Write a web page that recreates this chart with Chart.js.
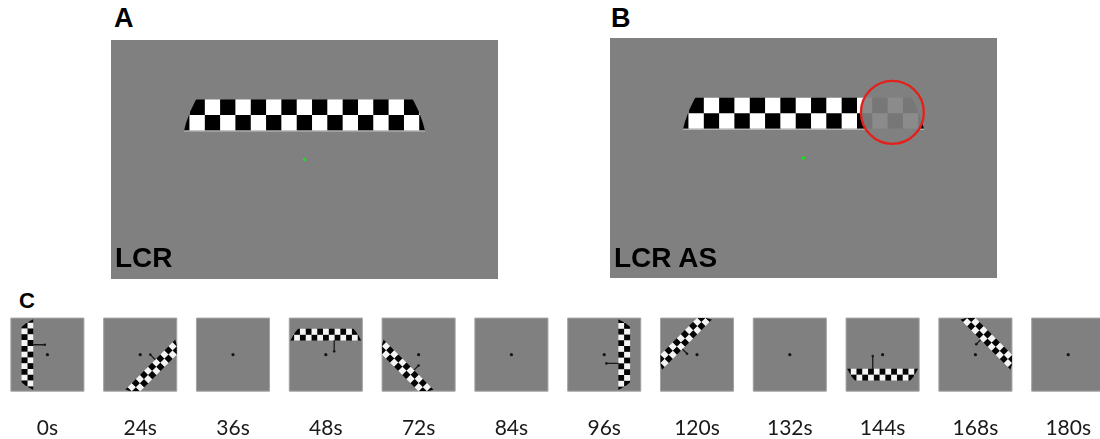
<!DOCTYPE html>
<html>
<head>
<meta charset="utf-8">
<script src="https://cdn.jsdelivr.net/npm/chart.js@4.4.1/dist/chart.umd.min.js"></script>
<style>
  html, body { margin: 0; padding: 0; background: #fff; overflow: hidden; }
  body { position: relative; width: 1100px; height: 439px; }
  .panel { position: absolute; }
  .tag { position: absolute; font-family: "Liberation Sans", Arial, sans-serif; font-weight: bold; color: #000; line-height: 1; white-space: nowrap; }
  #timeline { filter: blur(0.5px); }
</style>
</head>
<body>
<div class="tag" style="left:114px; top:5px; font-size:27px;">A</div>
<div class="tag" style="left:611px; top:5px; font-size:27px;">B</div>
<div class="tag" style="left:19px; top:290px; font-size:22px;">C</div>

<div class="panel" style="left:111px; top:40px; width:387px; height:239px;"><canvas id="screenA"></canvas></div>
<div class="panel" style="left:610px; top:38px; width:387px; height:240px;"><canvas id="screenB"></canvas></div>
<div class="panel" style="left:0; top:300px; width:1100px; height:143px;"><canvas id="timeline"></canvas></div>

<div class="tag" style="left:115px; top:244px; font-size:28px;">LCR</div>
<div class="tag" style="left:614px; top:244px; font-size:28px;">LCR AS</div>

<script>
// Stimulus screen, in screen pixels with fixation at 0,0 (y up)
const screenX = [-960, 960];
const screenY = [-600, 600];
const apertureR = 615;
const stripInner = 148;       // distance from fixation to the near edge of the strip
const checkSize = 76;
const stripColumns = [-8, -7, -6, -5, -4, -3, -2, -1, 0, 1, 2, 3, 4, 5, 6, 7, 8];
const stripRows = [0, 1];
const scotomaCenter = [441, 228];
const scotomaR = 156;

// Timeline of the travelling bar, in degrees with fixation at each frame centre
const timeLabels = ['0s', '24s', '36s', '48s', '72s', '84s', '96s', '120s', '132s', '144s', '168s', '180s'];
const barAngles = [180, 315, null, 90, 225, null, 0, 135, null, 270, 45, null];
const arrowAlong = [0.7, 1.95, null, 0.9, 2.1, null, 0.6, 2.1, null, 0.4, 2.2, null];
const arrowLateral = [-2.7, 1.95, null, -2.3, 2.1, null, -2.4, 1.75, null, -2.7, 1.85, null];
const frameHalf = 10;
const frameSlot = 25.4;
const barInner = 3.9;
const barCheck = 1.58;
const barAperture = 10.4;
const barSteps = [-7, -6, -5, -4, -3, -2, -1, 0, 1, 2, 3, 4, 5, 6, 7];

const BLACK = '#000000';
const WHITE = '#ffffff';
const GREY = '#808080';

function ppu(chart) {
  const s = chart.scales.x;
  return Math.abs(s.getPixelForValue(1) - s.getPixelForValue(0));
}

// clip a dataset to its aperture (circle), optional frame square, scotoma hole or scotoma inside
const apertureClip = {
  id: 'apertureClip',
  beforeDatasetDraw(chart, args) {
    const clip = chart.data.datasets[args.index].aperture;
    if (!clip) return;
    const { ctx } = chart;
    const x = chart.scales.x, y = chart.scales.y;
    const k = ppu(chart);
    ctx.save();
    ctx.beginPath();
    ctx.arc(x.getPixelForValue(clip.cx), y.getPixelForValue(clip.cy), clip.r * k, 0, Math.PI * 2);
    ctx.clip();
    if (clip.half) {
      const l = x.getPixelForValue(clip.cx - clip.half), t = y.getPixelForValue(clip.cy + clip.half);
      ctx.beginPath();
      ctx.rect(l, t, 2 * clip.half * k, 2 * clip.half * k);
      ctx.clip();
    }
    if (clip.hole) {
      ctx.beginPath();
      ctx.rect(0, 0, chart.width, chart.height);
      ctx.arc(x.getPixelForValue(clip.hole[0]), y.getPixelForValue(clip.hole[1]), clip.hole[2] * k, 0, Math.PI * 2);
      ctx.clip('evenodd');
    }
    if (clip.inside) {
      ctx.beginPath();
      ctx.arc(x.getPixelForValue(clip.inside[0]), y.getPixelForValue(clip.inside[1]), clip.inside[2] * k, 0, Math.PI * 2);
      ctx.clip();
    }
  },
  afterDatasetDraw(chart, args) {
    if (chart.data.datasets[args.index].aperture) chart.ctx.restore();
  }
};

const screenFill = {
  id: 'screenFill',
  beforeDatasetsDraw(chart) {
    const { ctx, chartArea: a } = chart;
    ctx.save();
    ctx.fillStyle = GREY;
    ctx.fillRect(a.left, a.top, a.width, a.height);
    ctx.restore();
  }
};

function stripChecks() {
  const pts = [];
  stripColumns.forEach(c => {
    stripRows.forEach(r => {
      pts.push({ x: c * checkSize, y: stripInner + (r + 0.5) * checkSize, dark: ((c + r) % 2 + 2) % 2 === 0 });
    });
  });
  return pts;
}

function stimulusChart(id, withScotoma) {
  const aperture = { cx: 0, cy: 0, r: apertureR };
  const hole = [scotomaCenter[0], scotomaCenter[1], scotomaR];
  const datasets = [
    {
      label: 'fixation',
      data: [{ x: 0, y: 0 }],
      pointRadius: 1.7,
      backgroundColor: '#19e019',
      borderWidth: 0,
      order: 0
    },
    {
      label: 'checks',
      data: stripChecks(),
      pointStyle: 'rect',
      pointRadius: ctx => checkSize * ppu(ctx.chart) / Math.SQRT2 + 0.15,
      backgroundColor: ctx => (ctx.raw && ctx.raw.dark ? BLACK : WHITE),
      borderWidth: 0,
      aperture: withScotoma ? Object.assign({ hole }, aperture) : aperture,
      order: 3
    },
    {
      label: 'edge',
      type: 'line',
      data: [{ x: -apertureR, y: stripInner - 4 }, { x: apertureR, y: stripInner - 4 }],
      borderColor: '#c4c4c4',
      borderWidth: 1.2,
      pointRadius: 0,
      aperture: withScotoma ? Object.assign({ hole }, aperture) : aperture,
      order: 4
    }
  ];
  if (withScotoma) {
    datasets.push({
      label: 'scotoma checks',
      data: stripChecks(),
      pointStyle: 'rect',
      pointRadius: ctx => checkSize * ppu(ctx.chart) / Math.SQRT2 + 0.15,
      backgroundColor: ctx => (ctx.raw && ctx.raw.dark ? '#777777' : '#8b8b8b'),
      borderWidth: 0,
      aperture: Object.assign({ inside: hole }, aperture),
      order: 2
    });
    datasets.push({
      label: 'scotoma',
      data: [{ x: scotomaCenter[0], y: scotomaCenter[1] }],
      pointStyle: 'circle',
      pointRadius: ctx => scotomaR * ppu(ctx.chart),
      backgroundColor: 'rgba(0,0,0,0)',
      borderColor: '#e3211c',
      borderWidth: 2.3,
      order: 1
    });
  }
  return new Chart(document.getElementById(id), {
    type: 'scatter',
    data: { datasets },
    options: {
      responsive: true,
      maintainAspectRatio: false,
      animation: false,
      events: [],
      layout: { padding: 0, autoPadding: false },
      plugins: { legend: { display: false }, tooltip: { enabled: false } },
      scales: {
        x: { type: 'linear', display: false, min: screenX[0], max: screenX[1] },
        y: { type: 'linear', display: false, min: screenY[0], max: screenY[1] }
      }
    },
    plugins: [screenFill, apertureClip]
  });
}

stimulusChart('screenA', false);
stimulusChart('screenB', true);

// Timeline frames
const frameCentres = timeLabels.map((_, i) => ({ x: i * frameSlot, y: 0 }));
const timelineSets = [
  {
    label: 'frames',
    data: frameCentres,
    pointStyle: 'rect',
    pointRadius: ctx => 2 * frameHalf * ppu(ctx.chart) / Math.SQRT2,
    backgroundColor: GREY,
    borderColor: '#a3a3a3',
    borderWidth: 1,
    order: 3
  },
  {
    label: 'fixation',
    data: frameCentres,
    pointRadius: 1.6,
    backgroundColor: '#151515',
    borderWidth: 0,
    order: 0
  }
];

const arrowPts = [];
barAngles.forEach((deg, i) => {
  if (deg === null) return;
  const t = deg * Math.PI / 180;
  const dir = [Math.cos(t), Math.sin(t)];
  const side = [-Math.sin(t), Math.cos(t)];
  const cx = i * frameSlot;
  const checks = [];
  barSteps.forEach(s => {
    stripRows.forEach(r => {
      const d = barInner + (r + 0.5) * barCheck;
      checks.push({
        x: cx + dir[0] * d + side[0] * s * barCheck,
        y: dir[1] * d + side[1] * s * barCheck,
        dark: ((s + r) % 2 + 2) % 2 === 0
      });
    });
  });
  timelineSets.push({
    label: timeLabels[i],
    data: checks,
    pointStyle: 'rect',
    rotation: ((-deg % 90) + 90) % 90,
    pointRadius: ctx => barCheck * ppu(ctx.chart) / Math.SQRT2 + 0.1,
    backgroundColor: ctx => (ctx.raw && ctx.raw.dark ? '#050505' : '#f4f4f4'),
    borderWidth: 0,
    aperture: { cx, cy: 0, r: barAperture, half: frameHalf },
    order: 2
  });
  const a = arrowAlong[i], l = arrowLateral[i];
  arrowPts.push({ x: cx + dir[0] * barInner + side[0] * l, y: dir[1] * barInner + side[1] * l, tip: false });
  arrowPts.push({ x: cx + dir[0] * a + side[0] * l, y: dir[1] * a + side[1] * l, tip: true });
  arrowPts.push({ x: null, y: null });
});

timelineSets.push({
  label: 'arrows',
  type: 'line',
  data: arrowPts,
  borderColor: '#1a1a1a',
  borderWidth: 1.3,
  spanGaps: false,
  pointRadius: ctx => (ctx.raw && ctx.raw.tip ? 1.3 : 0),
  pointBackgroundColor: '#1a1a1a',
  pointBorderWidth: 0,
  order: 1
});

new Chart(document.getElementById('timeline'), {
  type: 'scatter',
  data: { datasets: timelineSets },
  options: {
    responsive: true,
    maintainAspectRatio: false,
    animation: false,
    events: [],
    layout: { padding: { left: 1, right: 0, top: 0, bottom: 0 }, autoPadding: false },
    plugins: { legend: { display: false }, tooltip: { enabled: false } },
    scales: {
      x: {
        type: 'linear',
        min: -frameSlot / 2,
        max: 288.1,
        grid: { display: false, drawTicks: false },
        border: { display: false },
        afterBuildTicks: axis => { axis.ticks = timeLabels.map((_, i) => ({ value: i * frameSlot })); },
        ticks: {
          autoSkip: false,
          maxRotation: 0,
          padding: 3,
          color: '#1a1a1a',
          font: { family: 'Lato', size: 21, lineHeight: 1.15 },
          callback: (value, index) => timeLabels[index]
        }
      },
      y: { type: 'linear', display: false, min: -15.9, max: 14.92 }
    }
  },
  plugins: [apertureClip]
});
</script>
</body>
</html>
